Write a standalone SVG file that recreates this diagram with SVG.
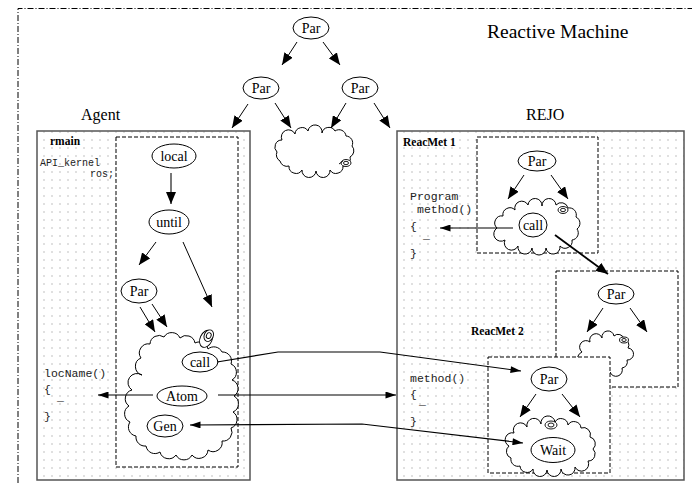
<svg xmlns="http://www.w3.org/2000/svg" width="692" height="483" viewBox="0 0 692 483">
  <style>
    .node { fill: #fff; stroke: #000; stroke-width: 1; }
    .lbl { font-family: "Liberation Serif", "Times New Roman", serif; font-size: 14px; text-anchor: middle; fill: #000; }
    .title { font-family: "Liberation Serif", "Times New Roman", serif; fill: #000; }
    .bold { font-family: "Liberation Serif", "Times New Roman", serif; font-size: 11.5px; font-weight: bold; fill: #000; }
    .code { font-family: "Liberation Mono", "Courier New", monospace; font-size: 11.5px; fill: #222; }
    .codes { font-family: "Liberation Mono", "Courier New", monospace; font-size: 10px; fill: #222; }
    .panel { fill: url(#dots); stroke: #555; stroke-width: 1.5; }
    .inner { fill: #fff; stroke: #000; stroke-width: 1; stroke-dasharray: 4 2; }
    .cloud { fill: #fff; stroke: #000; stroke-width: 1; }
    .edge { fill: none; stroke: #000; stroke-width: 1; marker-end: url(#ah); }
    .link { fill: none; stroke: #000; stroke-width: 1.2; }
    .icon { fill: #fff; stroke: #000; stroke-width: 0.9; }
  </style>
  <defs>
    <pattern id="dots" width="8" height="8" patternUnits="userSpaceOnUse">
      <rect width="8" height="8" fill="#fff"/>
      <circle cx="4" cy="4" r="0.7" fill="#aaa"/>
    </pattern>
    <marker id="ah" viewBox="0 0 12 10" refX="12" refY="5" markerWidth="12" markerHeight="10" markerUnits="userSpaceOnUse" orient="auto">
      <path d="M0,0 L12,5 L0,10 z" fill="#000"/>
    </marker>
    <marker id="sm" viewBox="0 0 12 8" refX="12" refY="4" markerWidth="12" markerHeight="7" markerUnits="userSpaceOnUse" orient="auto-start-reverse">
      <path d="M0,0 L12,4 L0,8 z" fill="#000"/>
    </marker>
  </defs>

  <rect width="692" height="483" fill="#fff"/>

  <!-- outer frame (dash-dot) -->
  <path d="M18,483 L18,8.5 L692,8.5" fill="none" stroke="#000" stroke-width="1" stroke-dasharray="6 2 1 2"/>

  <text class="title" x="487" y="38" font-size="19.5">Reactive Machine</text>

  <!-- top-level tree -->
  <g id="par-top"><ellipse class="node" cx="311" cy="28" rx="18" ry="11"/><text class="lbl" x="311" y="33">Par</text></g>
  <g id="par-left"><ellipse class="node" cx="261" cy="88" rx="18" ry="11"/><text class="lbl" x="261" y="93">Par</text></g>
  <g id="par-right"><ellipse class="node" cx="360" cy="88" rx="18" ry="11"/><text class="lbl" x="360" y="93">Par</text></g>
  <g id="cloud-top">
    <path class="cloud" d="M277,152 A7,7 0 0 1 282,140 A7,7 0 0 1 295,134 A7,7 0 0 1 308,131 A7,7 0 0 1 322,133 A7,7 0 0 1 335,131 A7,7 0 0 1 346,136 A7,7 0 0 1 352,146 A7,7 0 0 1 350,157 A7,7 0 0 1 343,166 A7,7 0 0 1 330,170 A7,7 0 0 1 316,171 A7,7 0 0 1 302,170 A7,7 0 0 1 289,166 A7,7 0 0 1 280,161 A7,7 0 0 1 277,152 Z"/>
    <ellipse class="icon" cx="346" cy="163" rx="5" ry="3.5"/>
    <ellipse class="icon" cx="346" cy="163" rx="2.5" ry="1.7"/>
    <path d="M339,164 L343,161" stroke="#000" stroke-width="0.9"/>
  </g>

  <!-- Agent -->
  <text class="title" x="81" y="120" font-size="16">Agent</text>
  <g id="agent">
    <rect class="panel" x="37" y="131" width="213" height="349"/>
    <text class="bold" x="50" y="145">rmain</text>
    <text class="codes" x="40" y="166">API_kernel</text>
    <text class="codes" x="90" y="177">ros;</text>
    <text class="code" x="44" y="377">locName()</text>
    <text class="code" x="44" y="393">{</text>
    <text class="code" x="57" y="401">_</text>
    <text class="code" x="44" y="420">}</text>
    <rect class="inner" x="116" y="137" width="122" height="330"/>
  </g>
  <g id="local"><ellipse class="node" cx="174" cy="156" rx="22" ry="12"/><text class="lbl" x="174" y="161">local</text></g>
  <g id="until"><ellipse class="node" cx="169" cy="222" rx="20" ry="12"/><text class="lbl" x="169" y="227">until</text></g>
  <g id="par-agent"><ellipse class="node" cx="139" cy="291" rx="18" ry="12"/><text class="lbl" x="139" y="296">Par</text></g>
  <g id="cloud-agent">
    <path class="cloud" d="M142,375 A9,9 0 0 1 141,358 A9,9 0 0 1 150,344 A9,9 0 0 1 164,337 A9,9 0 0 1 180,338 A9,9 0 0 1 195,343 A9,9 0 0 1 208,349 A9,9 0 0 1 222,352 A9,9 0 0 1 231,364 A9,9 0 0 1 232,380 A9,9 0 0 1 234,396 A9,9 0 0 1 233,412 A9,9 0 0 1 231,428 A9,9 0 0 1 222,441 A9,9 0 0 1 208,450 A9,9 0 0 1 192,455 A9,9 0 0 1 176,455 A9,9 0 0 1 160,452 A9,9 0 0 1 146,446 A9,9 0 0 1 136,436 A9,9 0 0 1 130,422 A9,9 0 0 1 129,406 A9,9 0 0 1 132,390 A9,9 0 0 1 142,375 Z"/>
    <g transform="rotate(25 207 337)">
      <ellipse class="icon" cx="207" cy="339" rx="6" ry="9"/>
      <ellipse class="icon" cx="208" cy="335" rx="4.5" ry="6"/>
      <ellipse class="icon" cx="208" cy="335" rx="2.3" ry="3"/>
    </g>
  </g>
  <g id="call-agent"><ellipse class="node" cx="200" cy="362" rx="18" ry="10"/><text class="lbl" x="200" y="367">call</text></g>
  <g id="atom"><ellipse class="node" cx="182" cy="396" rx="25" ry="10"/><text class="lbl" x="182" y="401">Atom</text></g>
  <g id="gen"><ellipse class="node" cx="165" cy="426" rx="18" ry="11"/><text class="lbl" x="165" y="431">Gen</text></g>

  <!-- REJO -->
  <text class="title" x="526" y="120" font-size="16">REJO</text>
  <g id="rejo">
    <rect class="panel" x="397" y="131" width="287" height="349"/>
    <text class="bold" x="403" y="146">ReacMet 1</text>
    <text class="code" x="410" y="200">Program</text>
    <text class="code" x="417" y="213">method()</text>
    <text class="code" x="410" y="230">{</text>
    <text class="code" x="423" y="239">_</text>
    <text class="code" x="410" y="257">}</text>
    <text class="bold" x="471" y="335">ReacMet 2</text>
    <text class="code" x="410" y="382">method()</text>
    <text class="code" x="410" y="398">{</text>
    <text class="code" x="419" y="405">_</text>
    <text class="code" x="410" y="425">}</text>
  </g>

  <g id="reacmet1">
    <rect class="inner" x="477" y="137" width="121" height="116"/>
  </g>
  <g id="par-rm1"><ellipse class="node" cx="537" cy="161" rx="19" ry="10"/><text class="lbl" x="537" y="166">Par</text></g>
  <g id="cloud-rm1">
    <path class="cloud" d="M497,228 A7,7 0 0 1 503,216 A7,7 0 0 1 515,210 A7,7 0 0 1 528,205 A7,7 0 0 1 542,206 A7,7 0 0 1 556,205 A7,7 0 0 1 568,208 A7,7 0 0 1 576,217 A7,7 0 0 1 577,229 A7,7 0 0 1 572,240 A7,7 0 0 1 560,246 A7,7 0 0 1 546,248 A7,7 0 0 1 532,248 A7,7 0 0 1 518,246 A7,7 0 0 1 505,240 A7,7 0 0 1 497,228 Z"/>
    <ellipse class="icon" cx="563" cy="210" rx="5" ry="3.5"/>
    <ellipse class="icon" cx="563" cy="210" rx="2.5" ry="1.7"/>
  </g>
  <g id="call-rm1"><ellipse class="node" cx="533" cy="225" rx="14" ry="12"/><text class="lbl" x="533" y="230">call</text></g>

  <g id="reacmet1b">
    <rect class="inner" x="556" y="271" width="122" height="116"/>
  </g>
  <g id="par-rm1b"><ellipse class="node" cx="616" cy="294" rx="18" ry="10"/><text class="lbl" x="616" y="299">Par</text></g>
  <g id="cloud-rm1b">
    <path class="cloud" d="M582,352 A6,6 0 0 1 590,342 A6,6 0 0 1 602,338 A6,6 0 0 1 614,336 A6,6 0 0 1 624,339 A6,6 0 0 1 628,348 A6,6 0 0 1 627,360 A6,6 0 0 1 622,368 A6,6 0 0 1 610,372 A6,6 0 0 1 598,372 A6,6 0 0 1 588,366 A6,6 0 0 1 582,352 Z"/>
    <ellipse class="icon" cx="624" cy="340" rx="4.5" ry="3"/>
    <ellipse class="icon" cx="624" cy="340" rx="2.2" ry="1.5"/>
  </g>

  <g id="reacmet2">
    <rect class="inner" x="488" y="357" width="122" height="116"/>
  </g>
  <g id="par-rm2"><ellipse class="node" cx="549" cy="379" rx="18" ry="12"/><text class="lbl" x="549" y="384">Par</text></g>
  <g id="cloud-rm2">
    <path class="cloud" d="M509,446 A7,7 0 0 1 514,433 A7,7 0 0 1 527,427 A7,7 0 0 1 541,424 A7,7 0 0 1 555,422 A7,7 0 0 1 568,425 A7,7 0 0 1 581,428 A7,7 0 0 1 590,437 A7,7 0 0 1 593,449 A7,7 0 0 1 588,461 A7,7 0 0 1 575,467 A7,7 0 0 1 561,469 A7,7 0 0 1 547,470 A7,7 0 0 1 533,469 A7,7 0 0 1 520,466 A7,7 0 0 1 511,458 A7,7 0 0 1 509,446 Z"/>
    <ellipse class="icon" cx="551" cy="425" rx="6" ry="4"/>
    <ellipse class="icon" cx="551" cy="425" rx="3" ry="2"/>
  </g>
  <g id="wait"><ellipse class="node" cx="553" cy="450" rx="22" ry="12.5"/><text class="lbl" x="553" y="455">Wait</text></g>

  <!-- connectors -->
  <g id="connectors">
    <path class="edge" d="M297,42 L282,65"/>
    <path class="edge" d="M323,42 L340,65"/>
    <path class="edge" d="M248,104 L232,128"/>
    <path class="edge" d="M275,103 L291,128"/>
    <path class="edge" d="M346,103 L331,128"/>
    <path class="edge" d="M374,103 L390,128"/>

    <path class="edge" d="M171,173 L171,204" style="stroke:#555;stroke-width:1.6"/>
    <path class="edge" d="M156,242 L139,265"/>
    <path class="edge" d="M183,242 L212,307"/>
    <path class="edge" d="M140,307 L155,332"/>
    <path class="edge" d="M152,304 L167,327"/>

    <path class="edge" d="M524,175 L508,199"/>
    <path class="edge" d="M551,175 L568,199"/>
    <path class="edge" d="M603,308 L587,332"/>
    <path class="edge" d="M630,308 L647,332"/>
    <path class="edge" d="M536,394 L520,417"/>
    <path class="edge" d="M562,394 L580,417"/>

    <path class="link" d="M513,228 L440,228" marker-end="url(#sm)"/>
    <path class="link" d="M555,235 L608,274" style="stroke-width:1.8" marker-end="url(#ah)"/>

    <path class="link" d="M153,395 L98,395" marker-end="url(#sm)"/>
    <path class="link" d="M218,395 L396,395" marker-end="url(#sm)"/>
    <path class="link" d="M217,362 L278,352 L380,352 L521,371" marker-end="url(#sm)"/>
    <path class="link" d="M190,425 L362,424 L523,443" marker-start="url(#sm)" marker-end="url(#sm)"/>
  </g>
</svg>
